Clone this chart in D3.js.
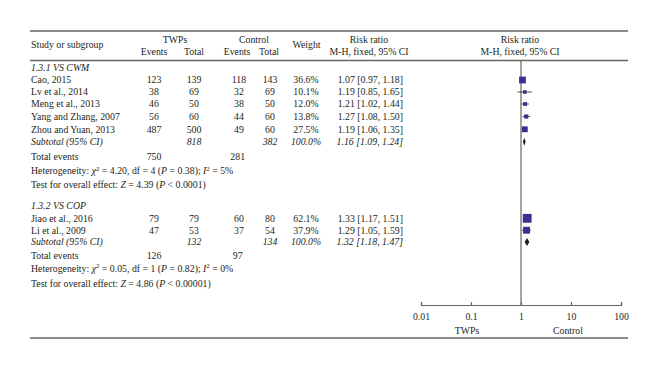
<!DOCTYPE html>
<html><head><meta charset="utf-8">
<script src="https://cdn.jsdelivr.net/npm/d3@7"></script>
<style>
body{margin:0;background:#fff;}
svg text{font-family:"Liberation Serif","DejaVu Serif",serif;fill:#231f20;}
</style></head>
<body><svg id="c" width="660" height="369"></svg>
<script>
// ---- data ----
const studies1 = ["Cao, 2015","Lv et al., 2014","Meng et al., 2013","Yang and Zhang, 2007","Zhou and Yuan, 2013"];
const twpEvents1 = [123,38,46,56,487];
const twpTotal1 = [139,69,50,60,500];
const ctlEvents1 = [118,32,38,44,49];
const ctlTotal1 = [143,69,50,60,60];
const weight1 = [36.6,10.1,12.0,13.8,27.5];
const rr1 = [1.07,1.19,1.21,1.27,1.19];
const lo1 = [0.97,0.85,1.02,1.08,1.06];
const hi1 = [1.18,1.65,1.44,1.50,1.35];
const sub1 = {twpTotal:818, ctlTotal:382, rr:1.16, lo:1.09, hi:1.24, twpEv:750, ctlEv:281};

const studies2 = ["Jiao et al., 2016","Li et al., 2009"];
const twpEvents2 = [79,47];
const twpTotal2 = [79,53];
const ctlEvents2 = [60,37];
const ctlTotal2 = [80,54];
const weight2 = [62.1,37.9];
const rr2 = [1.33,1.29];
const lo2 = [1.17,1.05];
const hi2 = [1.51,1.59];
const sub2 = {twpTotal:132, ctlTotal:134, rr:1.32, lo:1.18, hi:1.47, twpEv:126, ctlEv:97};

const axisTicks = [0.01,0.1,1,10,100];
const axisTickLabels = ["0.01","0.1","1","10","100"];

// ---- drawing ----
const svg = d3.select("#c");
const FS = 9.8;
const lineCol = "#6b635c";
const boxCol = "#3d2f8e";
const col = {study:31, te:154, tt:194, ce:239, ct:270, w:306, rr:403};
const x = d3.scaleLog().domain([0.01,100]).range([421,621]);

function txt(t, xx, y, anchor="start", italic=false){
  return svg.append("text").attr("x",xx).attr("y",y).attr("dy","0.35em")
    .attr("text-anchor",anchor).attr("font-size",FS)
    .attr("font-style",italic?"italic":"normal").text(t);
}
function hline(y,x1,x2,w=1.3){
  svg.append("line").attr("x1",x1).attr("x2",x2).attr("y1",y).attr("y2",y)
    .attr("stroke",lineCol).attr("stroke-width",w);
}
const fmt = d3.format(".2f");
const rrText = (r,l,h)=>`${fmt(r)} [${fmt(l)}, ${fmt(h)}]`;

// rules
hline(31,30,628);
hline(60.5,30,628);
hline(338,30,628);

// header
txt("Study or subgroup",col.study,45);
txt("TWPs",175,39.3,"middle");
txt("Control",254,39.3,"middle");
txt("Events",col.te,51.7,"middle");
txt("Total",col.tt,51.7,"middle");
txt("Events",237,51.7,"middle");
txt("Total",269,51.7,"middle");
txt("Weight",306.5,45,"middle");
txt("Risk ratio",369,39.3,"middle");
txt("M-H, fixed, 95% CI",369,51.7,"middle");
txt("Risk ratio",520,39.3,"middle");
txt("M-H, fixed, 95% CI",520,51.7,"middle");

// null line
svg.append("line").attr("x1",x(1)).attr("x2",x(1)).attr("y1",60.5).attr("y2",305)
  .attr("stroke",lineCol).attr("stroke-width",1.2);

// axis
const ax = d3.axisBottom(x).tickValues(axisTicks)
  .tickFormat((d,i)=>axisTickLabels[i]).tickSizeInner(-3).tickSizeOuter(-3).tickPadding(8);
const g = svg.append("g").attr("transform","translate(0,305)").call(ax);
g.select(".domain").attr("stroke",lineCol).attr("stroke-width",1.2);
g.selectAll(".tick line").attr("stroke",lineCol).attr("stroke-width",1.2);
g.selectAll(".tick text").attr("font-size",FS).attr("font-family",'"Liberation Serif",serif').attr("fill","#231f20");
txt("TWPs",467,330.7,"middle");
txt("Control",568,330.7,"middle");

function groupRows(title, yTitle, ys, studies, te, tt, ce, ct, w, rr, lo, hi, sub, ySub, yTot, het, yHet, test, yTest){
  txt(title,col.study,yTitle,"start",true);
  studies.forEach((s,i)=>{
    const y=ys[i];
    txt(s,col.study,y);
    txt(te[i],col.te,y,"middle");
    txt(tt[i],col.tt,y,"middle");
    txt(ce[i],col.ce,y,"middle");
    txt(ct[i],col.ct,y,"middle");
    txt(w[i].toFixed(1)+"%",col.w,y,"middle");
    txt(rrText(rr[i],lo[i],hi[i]),col.rr,y,"end");
    svg.append("line").attr("x1",x(lo[i])).attr("x2",x(hi[i])).attr("y1",y).attr("y2",y)
      .attr("stroke","#231f20").attr("stroke-width",0.8);
    const side = 1.12*Math.sqrt(w[i]);
    svg.append("rect").attr("x",x(rr[i])-side/2).attr("y",y-side/2)
      .attr("width",side).attr("height",side).attr("fill",boxCol);
  });
  txt("Subtotal (95% CI)",col.study,ySub,"start",true);
  txt(sub.twpTotal,col.tt,ySub,"middle",true);
  txt(sub.ctlTotal,col.ct,ySub,"middle",true);
  txt("100.0%",col.w,ySub,"middle",true);
  txt(rrText(sub.rr,sub.lo,sub.hi),col.rr,ySub,"end",true);
  const dh=4;
  svg.append("path").attr("d",`M${x(sub.lo)},${ySub} L${x(sub.rr)},${ySub-dh} L${x(sub.hi)},${ySub} L${x(sub.rr)},${ySub+dh} Z`)
    .attr("fill","#231f20");
  txt("Total events",col.study,yTot);
  txt(sub.twpEv,col.te,yTot,"middle");
  txt(sub.ctlEv,237.7,yTot,"middle");
  // heterogeneity
  const h = svg.append("text").attr("x",col.study).attr("y",yHet).attr("dy","0.35em").attr("font-size",FS);
  h.append("tspan").text("Heterogeneity: ");
  h.append("tspan").attr("font-style","italic").text("χ");
  h.append("tspan").attr("font-size",FS*0.7).attr("dy",-3.5).text("2");
  h.append("tspan").attr("dy",3.5).text(` = ${het.chi}, df = ${het.df} (`);
  h.append("tspan").attr("font-style","italic").text("P");
  h.append("tspan").text(` = ${het.p}); `);
  h.append("tspan").attr("font-style","italic").text("I");
  h.append("tspan").attr("font-size",FS*0.7).attr("dy",-3.5).text("2");
  h.append("tspan").attr("dy",3.5).text(` = ${het.i2}%`);
  const t = svg.append("text").attr("x",col.study).attr("y",yTest).attr("dy","0.35em").attr("font-size",FS);
  t.append("tspan").text("Test for overall effect: ");
  t.append("tspan").attr("font-style","italic").text("Z");
  t.append("tspan").text(` = ${test.z} (`);
  t.append("tspan").attr("font-style","italic").text("P");
  t.append("tspan").text(` < ${test.p})`);
}

groupRows("1.3.1 VS CWM",68,[80,92,104,116.5,129.3],studies1,twpEvents1,twpTotal1,ctlEvents1,ctlTotal1,weight1,rr1,lo1,hi1,sub1,141.7,156.7,
  {chi:"4.20",df:4,p:"0.38",i2:5},171,{z:"4.39",p:"0.0001"},184.7);
groupRows("1.3.2 VS COP",206,[218.3,230.2],studies2,twpEvents2,twpTotal2,ctlEvents2,ctlTotal2,weight2,rr2,lo2,hi2,sub2,242,256,
  {chi:"0.05",df:1,p:"0.82",i2:0},268.3,{z:"4.86",p:"0.00001"},283.3);
</script></body></html>
